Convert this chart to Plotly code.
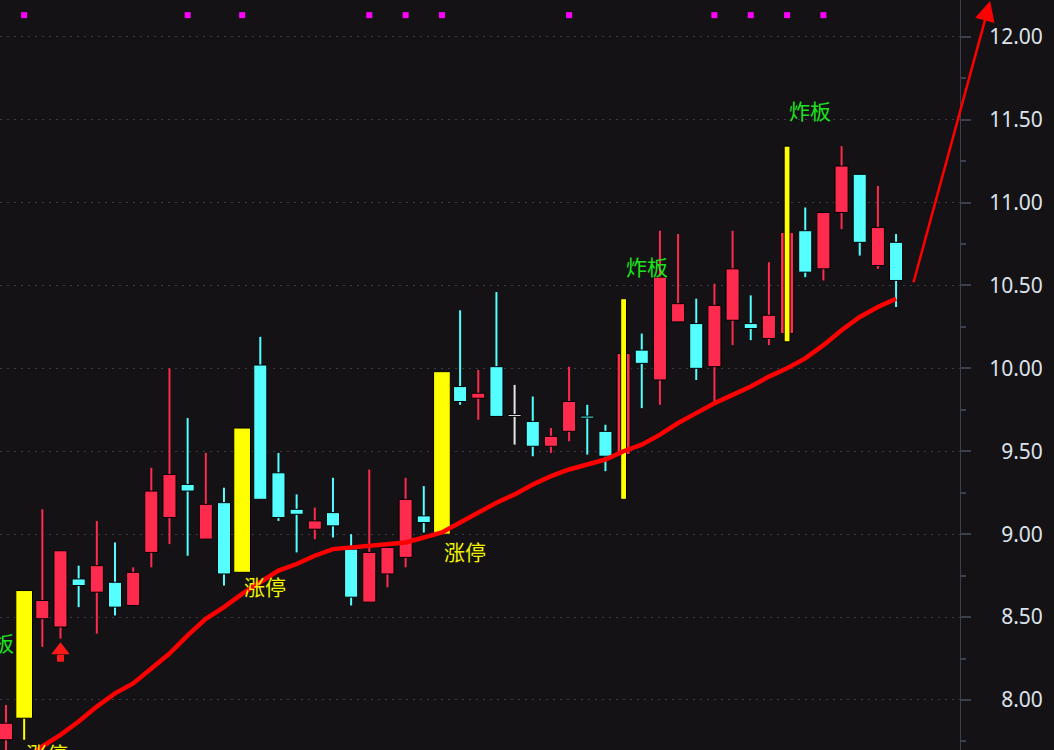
import plotly.graph_objects as go

# ---------------- data ----------------
idx = list(range(50))
opens = [7.76, 7.89, 8.49, 8.44, 8.73, 8.65, 8.71, 8.57, 8.89, 9.10,
         9.30, 8.97, 9.19, 8.77, 10.02, 9.37, 9.15, 9.03, 9.13, 8.91,
         8.59, 8.76, 8.86, 9.11, 9.00, 9.89, 9.82, 10.01, 9.71, 9.68,
         9.53, 9.62, 9.71, 9.62, 9.48, 10.11, 9.93, 10.28, 10.27, 10.01,
         10.29, 10.27, 10.18, 10.21, 10.83, 10.60, 10.94, 11.17, 10.62, 10.76]
highs = [7.97, 8.66, 9.15, 8.90, 8.81, 9.08, 8.95, 8.80, 9.40, 10.00,
         9.70, 9.49, 9.28, 9.64, 10.19, 9.49, 9.24, 9.16, 9.34, 9.00,
         9.39, 8.92, 9.34, 9.29, 9.98, 10.35, 9.99, 10.46, 9.90, 9.83,
         9.64, 10.01, 9.78, 9.66, 10.42, 10.21, 10.83, 10.81, 10.42, 10.51,
         10.83, 10.44, 10.64, 11.34, 10.97, 10.94, 11.34, 11.17, 11.10, 10.81]
lows = [7.68, 7.76, 8.32, 8.37, 8.56, 8.40, 8.51, 8.57, 8.80, 8.94,
        8.87, 8.97, 8.69, 8.77, 9.21, 9.08, 8.89, 8.97, 8.98, 8.57,
        8.59, 8.68, 8.80, 9.01, 9.00, 9.78, 9.69, 9.71, 9.54, 9.47,
        9.49, 9.56, 9.48, 9.38, 9.21, 9.76, 9.78, 10.28, 9.93, 9.79,
        10.14, 10.17, 10.14, 10.16, 10.55, 10.53, 10.84, 10.68, 10.60, 10.37]
closes = [7.86, 8.66, 8.60, 8.90, 8.69, 8.81, 8.56, 8.77, 9.26, 9.36,
          9.26, 9.18, 8.76, 9.64, 9.21, 9.10, 9.12, 9.08, 9.05, 8.62,
          8.89, 8.92, 9.21, 9.07, 9.98, 9.80, 9.85, 9.71, 9.71, 9.53,
          9.59, 9.80, 9.70, 9.47, 10.09, 10.03, 10.55, 10.39, 10.00, 10.38,
          10.60, 10.24, 10.32, 10.82, 10.58, 10.94, 11.22, 10.76, 10.85, 10.53]
ma_line = [7.55, 7.64, 7.72, 7.79, 7.87, 7.96, 8.04, 8.10, 8.19, 8.28,
           8.39, 8.49, 8.56, 8.64, 8.71, 8.78, 8.82, 8.87, 8.91, 8.92,
           8.93, 8.94, 8.95, 8.98, 9.01, 9.07, 9.13, 9.19, 9.24, 9.30,
           9.35, 9.39, 9.42, 9.45, 9.50, 9.54, 9.60, 9.67, 9.73, 9.79,
           9.84, 9.89, 9.95, 10.00, 10.06, 10.14, 10.23, 10.31, 10.37, 10.42]

limit_up_idx = [1, 13, 24]          # 涨停 candles
burst_idx = [34, 43]                # 炸板 candles (touched limit, fell back)
signal_idx = [3]                    # red buy arrow
signal_price = [8.30]
dot_idx = [1, 10, 13, 20, 22, 24, 31, 39, 41, 43, 45]
dot_price = 12.13

label_idx = [-2, 1, 13, 24, 34, 43]
label_text = ["炸板", "涨停", "涨停", "涨停", "炸板", "炸板"]
label_price = [8.35, 7.68, 8.69, 8.90, 10.62, 11.56]

trend_tail = (49.94, 10.51)
trend_head = (54.18, 12.215)

tick_vals = [8.0, 8.5, 9.0, 9.5, 10.0, 10.5, 11.0, 11.5, 12.0]
tick_text = ["\u20078.00", "\u20078.50", "\u20079.00", "\u20079.50",
             "10.00", "10.50", "11.00", "11.50", "12.00"]

# ---------------- layout / styles ----------------
X_RANGE = [-0.33, 52.52]
Y_RANGE = [7.6984, 12.2213]
W, H, MR = 1054, 750, 94
PX_X = (W - MR) / (X_RANGE[1] - X_RANGE[0])
PX_Y = H / (Y_RANGE[1] - Y_RANGE[0])

BG = "#141215"
RED = "#ff2b4e"
CYAN = "#55ffff"
YELLOW = "#ffff00"
WHITE = "#e6e6e6"
GREEN = "#1ee21e"
GRID = "#3a3a48"
AXIS = "#3b3f4e"

colors, body_w = [], []
for i, (o, c) in enumerate(zip(opens, closes)):
    if i in limit_up_idx:
        colors.append(YELLOW); body_w.append(0.92)
    elif c > o:
        colors.append(RED); body_w.append(0.72)
    elif c < o:
        colors.append(CYAN); body_w.append(0.72)
    else:
        colors.append(WHITE); body_w.append(0.72)

body_base = [min(o, c) for o, c in zip(opens, closes)]
body_h = [max(abs(c - o), 0.012) for o, c in zip(opens, closes)]

fig = go.Figure()
# wicks
fig.add_trace(go.Bar(x=idx, base=lows, y=[h - l for h, l in zip(highs, lows)],
                     width=0.11, marker=dict(color=colors, line=dict(width=0)),
                     hoverinfo="skip"))
# bodies
fig.add_trace(go.Bar(x=idx, base=body_base, y=body_h, width=body_w,
                     marker=dict(color=colors, line=dict(color="#000000", width=1)),
                     hoverinfo="skip"))
# burst (炸板) yellow range lines
fig.add_trace(go.Bar(x=burst_idx, base=[lows[i] for i in burst_idx],
                     y=[highs[i] - lows[i] for i in burst_idx], width=0.32,
                     marker=dict(color=YELLOW, line=dict(color="#000000", width=1)),
                     hoverinfo="skip"))
# moving average
fig.add_trace(go.Scatter(x=idx, y=ma_line, mode="lines",
                         line=dict(color="#ff0000", width=4.5), hoverinfo="skip"))
# top magenta dots
fig.add_trace(go.Scatter(x=dot_idx, y=[dot_price] * len(dot_idx), mode="markers",
                         marker=dict(symbol="square", size=6, color="#ff00ff"),
                         cliponaxis=False, hoverinfo="skip"))
# buy arrow (head + stem)
fig.add_trace(go.Scatter(x=signal_idx, y=signal_price, mode="markers",
                         marker=dict(symbol="triangle-up", size=16, color="#ff1a1a"),
                         hoverinfo="skip"))
fig.add_trace(go.Scatter(x=signal_idx, y=[p - 0.048 for p in signal_price], mode="markers",
                         marker=dict(symbol="square", size=7, color="#ff1a1a"),
                         hoverinfo="skip"))

for xi, t, yp in zip(label_idx, label_text, label_price):
    xa = min(max(xi, X_RANGE[0]), X_RANGE[1])
    ya = min(max(yp, Y_RANGE[0]), Y_RANGE[1])
    fig.add_annotation(x=xa, y=ya, xshift=(xi - xa) * PX_X, yshift=(yp - ya) * PX_Y,
                       text=t, showarrow=False, xanchor="left", yanchor="middle",
                       font=dict(family="Noto Sans CJK SC", size=21,
                                 color=GREEN if t == "炸板" else "#f2f200"))

fig.add_annotation(x=trend_head[0], y=trend_head[1], ax=trend_tail[0], ay=trend_tail[1],
                   xref="x", yref="y", axref="x", ayref="y", text="",
                   showarrow=True, arrowhead=2, arrowsize=1.6, arrowwidth=2.5,
                   arrowcolor="#ff0000")

fig.update_layout(
    width=W, height=H,
    margin=dict(l=0, r=MR, t=0, b=0, autoexpand=False),
    paper_bgcolor=BG, plot_bgcolor=BG,
    barmode="overlay", showlegend=False,
    xaxis=dict(range=X_RANGE, visible=False, fixedrange=True),
    yaxis=dict(range=Y_RANGE, side="right",
               tickvals=tick_vals, ticktext=tick_text,
               showgrid=True, gridcolor=GRID, griddash="2px,5px", gridwidth=1,
               zeroline=False, showline=True, linecolor=AXIS, linewidth=1,
               ticks="outside", ticklen=10, tickcolor=AXIS, tickwidth=2,
               ticklabelstandoff=14,
               tickfont=dict(family="Noto Sans", size=21, color="#dde3ea"),
               minor=dict(dtick=0.25, ticks="outside", ticklen=5, tickcolor=AXIS,
                          tickwidth=2, showgrid=False)),
)

fig.write_html("out.html",
               config={"displayModeBar": False, "staticPlot": True},
               post_script="document.body.style.margin='0';"
                           "document.body.style.background='" + BG + "';"
                           "document.body.style.overflow='hidden';")
